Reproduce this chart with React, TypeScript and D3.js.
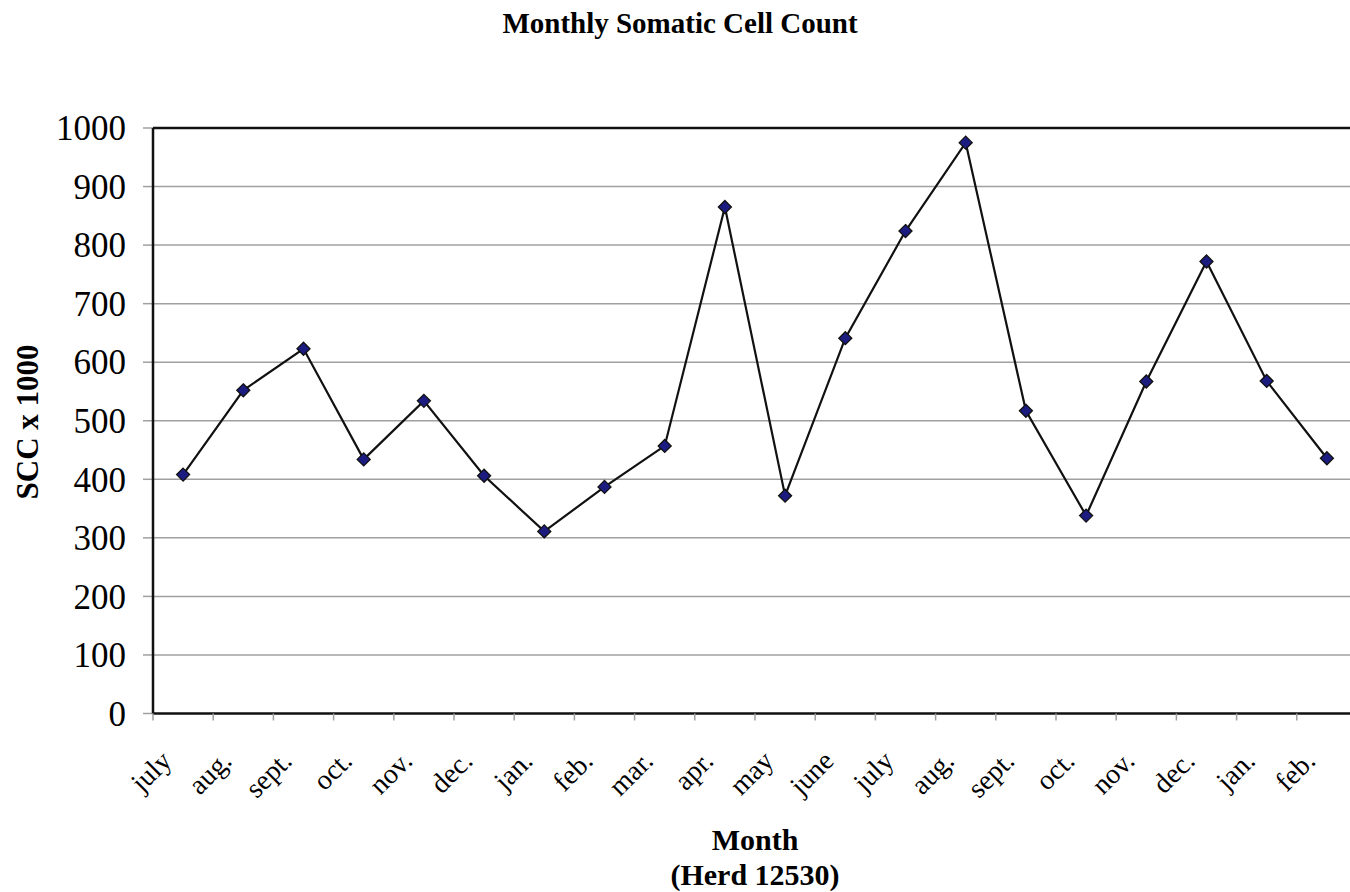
import React from "react";
import * as d3 from "d3";

const months = ["july","aug.","sept.","oct.","nov.","dec.","jan.","feb.","mar.","apr.","may","june","july","aug.","sept.","oct.","nov.","dec.","jan.","feb."];
const scc = [408, 552, 623, 434, 534, 406, 311, 387, 457, 865, 372, 641, 824, 975, 517, 338, 567, 772, 568, 436];
const yTicks = [0, 100, 200, 300, 400, 500, 600, 700, 800, 900, 1000];

const W = 1350, H = 892;
const left = 153, right = 1357, top = 128, bottom = 713.5;
const FONT = "'Liberation Serif', 'Times New Roman', serif";

export default function App() {
  const idx = months.map((_, i) => String(i));
  const x = d3.scaleBand<string>().domain(idx).range([left, right]);
  const y = d3.scaleLinear().domain([0, 1000]).range([bottom, top]);
  const cx = (i: number) => (x(String(i)) as number) + x.bandwidth() / 2;
  const line = d3.line<number>().x((_, i) => cx(i)).y(d => y(d));
  const boundaries = d3.range(months.length + 1).map(i => left + i * x.bandwidth());
  const s = 6.5;
  return (
    <svg width={W} height={H} style={{ position: "absolute", left: 0, top: 0, background: "#fff" }}>
      <text x={680} y={33} textAnchor="middle" fontFamily={FONT} fontWeight="bold" fontSize={29}>Monthly Somatic Cell Count</text>
      {yTicks.map(t => (
        <g key={t}>
          {t > 0 && t < 1000 && <line x1={left} x2={W} y1={y(t)} y2={y(t)} stroke="#a0a0a0" strokeWidth={1.5} />}
          <line x1={left - 10} x2={left} y1={y(t)} y2={y(t)} stroke="#a0a0a0" strokeWidth={1.5} />
          <text x={126} y={y(t)} dy="0.35em" textAnchor="end" fontFamily={FONT} fontSize={35}>{t}</text>
        </g>
      ))}
      <line x1={left} x2={W} y1={top} y2={top} stroke="#111" strokeWidth={2.5} />
      <line x1={left} x2={W} y1={bottom} y2={bottom} stroke="#111" strokeWidth={2.5} />
      <line x1={left} x2={left} y1={top} y2={bottom} stroke="#111" strokeWidth={2.5} />
      {boundaries.map((b, i) => (
        <line key={i} x1={b} x2={b} y1={bottom} y2={bottom + 7} stroke="#a0a0a0" strokeWidth={1.5} />
      ))}
      {months.map((m, i) => (
        <text key={i} transform={`translate(${cx(i) - 10},${bottom + 49}) rotate(-45)`} textAnchor="end" fontFamily={FONT} fontSize={28}>{m}</text>
      ))}
      <path d={line(scc) || ""} fill="none" stroke="#111" strokeWidth={2.2} />
      {scc.map((v, i) => (
        <path key={i} d={`M${cx(i)},${y(v) - s}L${cx(i) + s},${y(v)}L${cx(i)},${y(v) + s}L${cx(i) - s},${y(v)}Z`} fill="#1c1c80" stroke="#111" strokeWidth={1.3} />
      ))}
      <text transform={`translate(27,${422}) rotate(-90)`} dy="0.35em" textAnchor="middle" fontFamily={FONT} fontWeight="bold" fontSize={31}>SCC x 1000</text>
      <text x={755} y={850} textAnchor="middle" fontFamily={FONT} fontWeight="bold" fontSize={30}>Month</text>
      <text x={755} y={885} textAnchor="middle" fontFamily={FONT} fontWeight="bold" fontSize={30}>(Herd 12530)</text>
    </svg>
  );
}
